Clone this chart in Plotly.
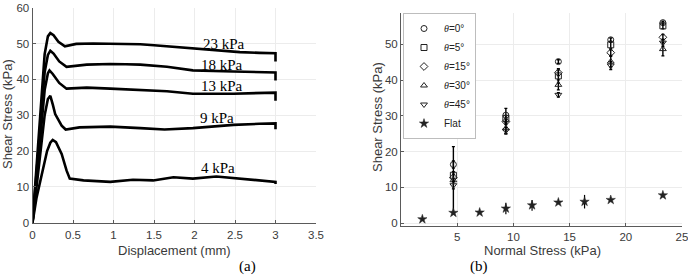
import plotly.graph_objects as go

# ---------------- Panel (a): shear stress vs displacement ----------------
disp_23 = [0, 0.05, 0.10, 0.15, 0.19, 0.22, 0.26, 0.32, 0.40, 0.54, 0.75, 0.96, 1.15, 1.33, 1.50, 1.66, 1.98, 2.27, 2.56, 2.80, 3.00, 3.00]
tau_23 = [0, 15, 32, 47, 52, 52.9, 52.3, 50.5, 49.2, 49.9, 50.0, 49.9, 49.9, 49.8, 49.5, 49.2, 48.6, 48.1, 47.6, 47.4, 47.3, 45.0]

disp_18 = [0, 0.05, 0.10, 0.15, 0.19, 0.22, 0.26, 0.33, 0.42, 0.67, 0.96, 1.15, 1.33, 1.66, 1.98, 2.48, 3.00, 3.00]
tau_18 = [0, 13, 28, 42, 46.8, 48.0, 47.2, 45.0, 43.5, 44.1, 44.3, 44.2, 44.1, 43.5, 42.5, 42.2, 41.9, 39.7]

disp_13 = [0, 0.05, 0.10, 0.15, 0.19, 0.21, 0.25, 0.33, 0.42, 0.67, 0.96, 1.33, 1.66, 1.98, 2.48, 3.00, 3.00]
tau_13 = [0, 12, 25, 37, 41.7, 42.5, 41.5, 39.0, 37.4, 37.7, 37.4, 37.1, 36.7, 36.0, 36.0, 36.3, 34.0]

disp_9 = [0, 0.05, 0.10, 0.15, 0.19, 0.22, 0.25, 0.28, 0.36, 0.41, 0.58, 0.96, 1.33, 1.63, 1.98, 2.48, 2.80, 3.00, 3.00]
tau_9 = [0, 10, 21, 30, 34.5, 35.4, 33.0, 30.3, 27.1, 26.0, 26.6, 26.8, 26.4, 26.0, 26.4, 27.3, 27.6, 27.7, 26.1]

disp_4 = [0, 0.05, 0.10, 0.15, 0.18, 0.22, 0.25, 0.29, 0.36, 0.42, 0.46, 0.63, 0.96, 1.24, 1.49, 1.74, 1.98, 2.27, 2.56, 3.00, 3.00]
tau_4 = [0, 7, 12, 17, 20, 22.3, 23.1, 22.5, 19.2, 14.6, 12.3, 11.8, 11.4, 12.0, 11.8, 12.7, 12.3, 12.9, 12.3, 11.4, 10.8]

curve_labels = ["23 kPa", "18 kPa", "13 kPa", "9 kPa", "4 kPa"]
label_x = [2.37, 2.34, 2.34, 2.28, 2.29]
label_y = [49.8, 44.1, 38.2, 29.2, 15.4]

left_x_ticks = [0, 0.5, 1, 1.5, 2, 2.5, 3, 3.5]
left_y_ticks = [0, 10, 20, 30, 40, 50, 60]

# ---------------- Panel (b): shear stress vs normal stress ----------------
normal_stress = [4.66, 9.33, 14.0, 18.66, 23.3]
theta_names = ["0", "5", "15", "30", "45"]
theta_vals = [
    [16.4, 30.2, 45.2, 51.3, 56.1],
    [13.4, 29.3, 41.2, 49.9, 55.2],
    [12.7, 28.4, 42.1, 47.7, 52.0],
    [12.0, 26.5, 38.7, 45.2, 48.7],
    [10.6, 25.9, 35.9, 44.1, 50.5],
]
theta_err = [
    [1.0, 1.9, 0.5, 0.5, 0.4],
    [1.0, 0.8, 2.0, 1.0, 0.8],
    [1.0, 0.8, 0.8, 0.8, 0.8],
    [9.4, 1.5, 1.4, 1.5, 1.9],
    [1.0, 0.9, 0.6, 1.1, 1.0],
]
theta_symbols = ["circle-open", "square-open", "diamond-open", "triangle-up-open", "triangle-down-open"]

flat_x = [1.9, 4.66, 7.0, 9.33, 11.66, 14.0, 16.33, 18.66, 23.3]
flat_y = [1.1, 2.9, 3.0, 4.1, 5.0, 5.8, 6.0, 6.5, 7.8]
flat_err = [0.3, 0.3, 0.3, 1.6, 1.5, 0.5, 1.9, 0.3, 0.4]

right_x_ticks = [5, 10, 15, 20, 25]
right_y_ticks = [0, 10, 20, 30, 40, 50]

fig = go.Figure()

for dx, ty in [(disp_23, tau_23), (disp_18, tau_18), (disp_13, tau_13), (disp_9, tau_9), (disp_4, tau_4)]:
    fig.add_trace(go.Scatter(x=dx, y=ty, mode="lines", line=dict(color="black", width=2.6),
                             showlegend=False, xaxis="x", yaxis="y", hoverinfo="skip"))

theta_font = "<span style='font-family:Liberation Serif;font-style:italic'>θ</span>"
for name, vals, err, sym in zip(theta_names, theta_vals, theta_err, theta_symbols):
    fig.add_trace(go.Scatter(
        x=normal_stress, y=vals, mode="markers", name=f"{theta_font}={name}°",
        marker=dict(symbol=sym, size=6, color="#222", line=dict(width=1, color="#222")),
        error_y=dict(type="data", array=err, visible=True, color="black", thickness=1.4, width=1.5),
        xaxis="x2", yaxis="y2"))

fig.add_trace(go.Scatter(
    x=flat_x, y=flat_y, mode="markers", name="Flat",
    marker=dict(symbol="star", size=7, color="#222", line=dict(width=0.5, color="#222")),
    error_y=dict(type="data", array=flat_err, visible=True, color="black", thickness=1.2, width=0),
    xaxis="x2", yaxis="y2"))

W, H = 688, 276
sans = "Liberation Sans"
serif = "Liberation Serif"
tickfont = dict(family=sans, size=11.5, color="#3a3a3a")
grid = "#ececec"
axline = "#5a5a5a"

common_axis = dict(showgrid=True, gridcolor=grid, gridwidth=1, zeroline=False,
                   showline=True, linecolor=axline, linewidth=1, automargin=False,
                   ticklabeloverflow="allow", tickmode="array",
                   ticks="inside", ticklen=3, tickcolor=axline, tickfont=tickfont)

annotations = []
for t, lx, ly in zip(curve_labels, label_x, label_y):
    annotations.append(dict(x=lx, y=ly, xref="x", yref="y", text=t, showarrow=False,
                            xanchor="center", yanchor="middle",
                            font=dict(family=serif, size=15, color="black")))

def px_x(p):
    return p / W

def px_y(p):
    return (H - p) / H

def paper_text(x, y, text, font, angle=0):
    return dict(x=px_x(x), y=px_y(y), xref="paper", yref="paper", text=text,
                textangle=angle, showarrow=False, xanchor="center", yanchor="middle", font=font)

title_font = dict(family=sans, size=13, color="#3a3a3a")
label_font = dict(family=serif, size=15, color="black")
annotations += [
    paper_text(8, 114, "Shear Stress (kPa)", title_font, -90),
    paper_text(174, 250, "Displacement (mm)", title_font),
    paper_text(377, 117, "Shear Stress (kPa)", title_font, -90),
    paper_text(542, 250.5, "Normal Stress (kPa)", title_font),
    paper_text(248, 266, "(a)", label_font),
    paper_text(479, 266, "(b)", label_font),
]

fig.update_layout(
    template="none",
    width=W, height=H, margin=dict(l=0, r=0, t=0, b=0, pad=0), autosize=False,
    paper_bgcolor="white", plot_bgcolor="white",
    xaxis=dict(domain=[px_x(32.5), px_x(316)], range=[0, 3.5], tickvals=left_x_ticks,
               ticktext=["0", "0.5", "1", "1.5", "2", "2.5", "3", "3.5"], anchor="y",
               ticklabelstandoff=1, **common_axis),
    yaxis=dict(domain=[px_y(222.7), px_y(7.5)], range=[0, 60.05], tickvals=left_y_ticks,
               ticktext=[str(v) for v in left_y_ticks], anchor="x", **common_axis),
    xaxis2=dict(domain=[px_x(401), px_x(682)], range=[0, 25], tickvals=right_x_ticks, anchor="y2",
                **common_axis),
    yaxis2=dict(domain=[px_y(226), px_y(13)], range=[-0.8, 58.8], tickvals=right_y_ticks, anchor="x2",
                **common_axis),
    legend=dict(x=px_x(403), y=px_y(13), xanchor="left", yanchor="top",
                bgcolor="white", bordercolor="#bdbdbd", borderwidth=1,
                font=dict(family=sans, size=10, color="#222"),
                itemwidth=30, tracegroupgap=0),
    annotations=annotations,
    showlegend=True,
)

fig.write_html("out.html")
